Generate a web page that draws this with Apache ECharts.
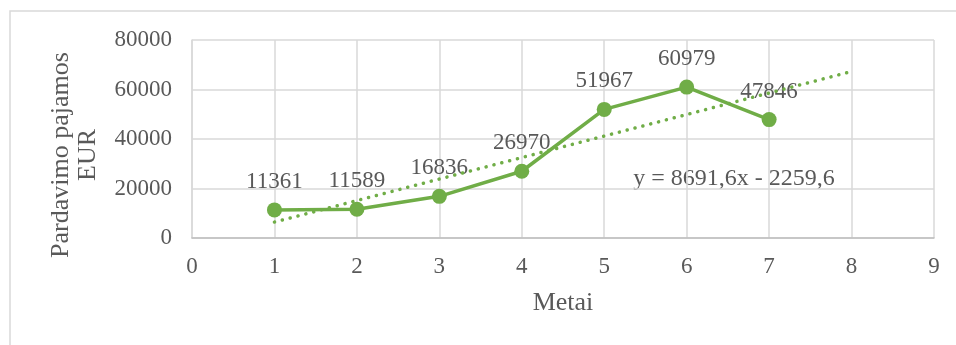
<!DOCTYPE html>
<html>
<head>
<meta charset="utf-8">
<script src="https://cdn.jsdelivr.net/npm/echarts@6/dist/echarts.min.js"></script>
<style>
  html, body { margin: 0; padding: 0; background: #fff; }
  #chart { width: 956px; height: 345px; }
</style>
</head>
<body>
<div id="chart"></div>
<script>
// Sales revenue by year, with its linear trend
const years = [1, 2, 3, 4, 5, 6, 7];
const revenue = [11361, 11589, 16836, 26970, 51967, 60979, 47846];
const trendSlope = 8691.6;
const trendIntercept = -2259.6;
const trendRange = [1, 8];
const trendLabel = 'y = 8691,6x - 2259,6';
const xTitle = 'Metai';
const yTitle = 'Pardavimo pajamos\nEUR';

const green = '#70AD47';
const textColor = '#595959';
const gridColor = '#d9d9d9';
const font = '"Liberation Serif", "Times New Roman", serif';

const salesPoints = years.map((x, i) => [x, revenue[i]]);
const trendPoints = trendRange.map(x => [x, trendSlope * x + trendIntercept]);

const chart = echarts.init(document.getElementById('chart'), null, { renderer: 'canvas' });
chart.setOption({
  animation: false,
  backgroundColor: '#fff',
  grid: { left: 192, right: 22, top: 40, bottom: 107, containLabel: false },
  xAxis: {
    type: 'value', min: 0, max: 9, interval: 1,
    name: xTitle, nameLocation: 'middle', nameGap: 52,
    nameTextStyle: { fontFamily: font, fontSize: 26, color: textColor },
    axisLine: { show: true, lineStyle: { color: '#bfbfbf', width: 1.5 } },
    axisTick: { show: false },
    axisLabel: { fontFamily: font, fontSize: 23, color: textColor, margin: 17 },
    splitLine: { show: true, lineStyle: { color: gridColor, width: 1.5 } }
  },
  yAxis: {
    type: 'value', min: 0, max: 80000, interval: 20000,
    axisLine: { show: true, lineStyle: { color: gridColor, width: 1.5 } },
    axisTick: { show: false },
    axisLabel: {
      fontFamily: font, fontSize: 23, color: textColor, margin: 20,
      formatter: v => String(v)
    },
    splitLine: { show: true, lineStyle: { color: gridColor, width: 1.5 } }
  },
  graphic: [
    {
      type: 'rect', silent: true, z: -1,
      shape: { x: 10, y: 11, width: 1000, height: 400 },
      style: { fill: null, stroke: gridColor, lineWidth: 1.5 }
    },
    {
      type: 'text', silent: true,
      x: 75, y: 155, rotation: Math.PI / 2,
      style: {
        text: yTitle, fontFamily: font, fontSize: 26, fill: textColor,
        align: 'center', verticalAlign: 'middle', lineHeight: 27
      }
    },
    {
      type: 'text', silent: true,
      x: 734, y: 179,
      style: {
        text: trendLabel, fontFamily: font, fontSize: 24, fill: textColor,
        align: 'center', verticalAlign: 'middle'
      }
    }
  ],
  series: [
    {
      type: 'line', name: 'Pajamos', data: salesPoints,
      symbol: 'circle', symbolSize: 15,
      lineStyle: { color: green, width: 3.5 },
      itemStyle: { color: green },
      z: 2,
      label: {
        show: true, position: 'top', distance: 9,
        fontFamily: font, fontSize: 23, color: textColor
      },
      labelLayout: { hideOverlap: false }
    },
    {
      type: 'line', name: 'Trend', data: trendPoints,
      symbol: 'none',
      lineStyle: { color: green, width: 3.5, type: [0.1, 8], cap: 'round' },
      z: 3
    }
  ]
});
</script>
</body>
</html>
